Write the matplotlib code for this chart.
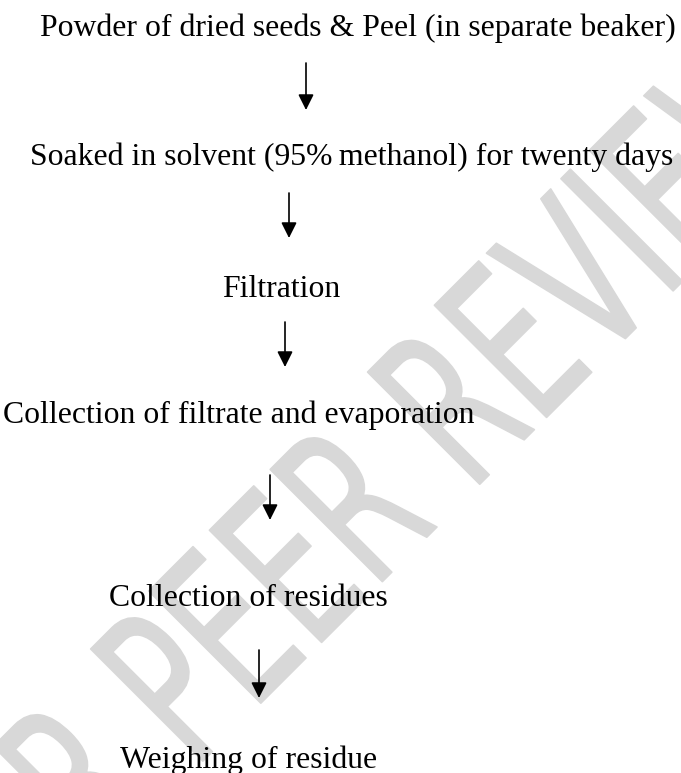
import matplotlib.pyplot as plt
from matplotlib.font_manager import FontProperties
from matplotlib.patches import PathPatch
from matplotlib.textpath import TextPath
from matplotlib.transforms import Affine2D

# flowchart content
steps = [
    "Powder of dried seeds & Peel (in separate beaker)",
    "Soaked in solvent (95%\u2009methanol) for twenty days",
    "Filtration",
    "Collection of filtrate and evaporation",
    "Collection of residues",
    "Weighing of residue",
]
watermark = "UNDER PEER REVIEW"

# layout in pixels (left edge, baseline) for each step, and arrows (x, top, tip)
step_x = [40, 30, 222, 3, 109, 120]
step_y = [36, 165, 297, 423, 606, 768]
arrow_x = [306, 289, 285, 270, 259]
arrow_top = [63, 193, 322, 475, 650]
arrow_tip = [110, 238, 367, 520, 698]

W, H = 681, 773
fig = plt.figure(figsize=(W / 100, H / 100), dpi=100)
ax = fig.add_axes([0, 0, 1, 1])
ax.set_xlim(0, W)
ax.set_ylim(H, 0)
ax.axis('off')

# faint diagonal watermark: tall, condensed letters at 45 degrees
tp = TextPath((0, 0), watermark, size=136, prop=FontProperties(family='DejaVu Sans'))
bb = tp.get_extents()
cx, cy = (bb.x0 + bb.x1) / 2, (bb.y0 + bb.y1) / 2
tr = (Affine2D().translate(-cx, -cy).scale(1, -1.6)
      .rotate_deg(-45).translate(281, 573))
wm = PathPatch(tr.transform_path(tp), facecolor='#d8d8d8', edgecolor='#d8d8d8',
               lw=1.2, joinstyle='round', zorder=0)
ax.add_patch(wm)

for label, x, y in zip(steps, step_x, step_y):
    ax.text(x, y, label, fontsize=22.9, family=['Liberation Serif', 'DejaVu Serif'],
            ha='left', va='baseline', color='black', zorder=2)

for x, top, tip in zip(arrow_x, arrow_top, arrow_tip):
    ax.annotate('', xy=(x, tip), xytext=(x, top), zorder=2,
                arrowprops=dict(arrowstyle='-|>,head_length=0.4,head_width=0.2',
                                color='black', lw=1.2, mutation_scale=23.5,
                                shrinkA=0, shrinkB=0))

fig.savefig('out.png', dpi=100)
